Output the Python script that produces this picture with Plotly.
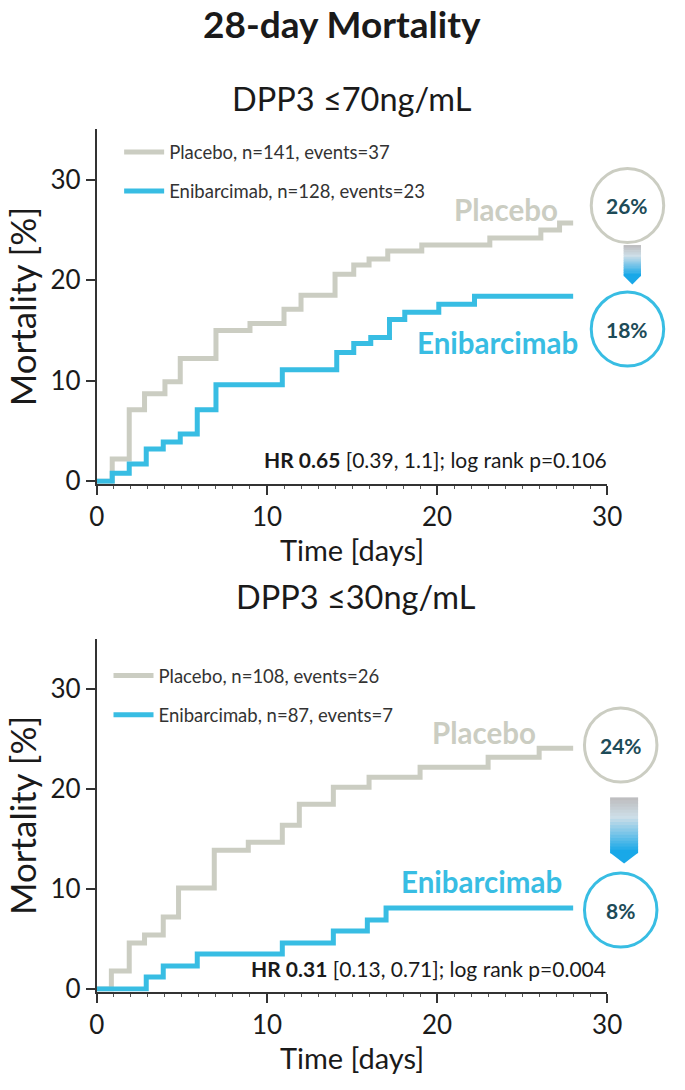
import plotly.graph_objects as go

W, H = 685, 1090

# ---------------- data ----------------
# Panel 1: DPP3 <=70 ng/mL
t1_placebo = [0, 0.9, 1.9, 2.8, 4.0, 4.9, 7.0, 9.0, 11.0, 12.0, 14.0, 15.1, 16.0, 17.1, 19.1, 23.1, 26.1, 27.2, 28.0]
m1_placebo = [0, 2.2, 7.1, 8.7, 9.9, 12.2, 15.0, 15.7, 17.1, 18.5, 20.6, 21.5, 22.1, 22.9, 23.5, 24.2, 25.0, 25.7, 25.7]
t1_enib = [0, 0.9, 1.9, 2.9, 3.9, 4.9, 5.9, 7.0, 10.9, 14.1, 15.1, 16.1, 17.2, 18.1, 20.1, 22.2, 28.0]
m1_enib = [0, 0.8, 1.7, 3.2, 3.9, 4.7, 7.1, 9.6, 11.1, 12.8, 13.7, 14.3, 16.1, 16.8, 17.6, 18.4, 18.4]

# Panel 2: DPP3 <=30 ng/mL
t2_placebo = [0, 0.85, 1.9, 2.8, 3.9, 4.8, 6.9, 8.9, 10.9, 11.9, 13.9, 16.0, 19.0, 23.0, 26.0, 28.0]
m2_placebo = [0, 1.8, 4.6, 5.4, 7.2, 10.1, 13.9, 14.7, 16.4, 18.5, 20.2, 21.2, 22.2, 23.2, 24.1, 24.1]
t2_enib = [0, 2.9, 3.9, 5.9, 10.9, 13.9, 15.9, 17.0, 28.0]
m2_enib = [0, 1.2, 2.3, 3.5, 4.6, 5.8, 6.9, 8.1, 8.1]

legend1 = ["Placebo, n=141, events=37", "Enibarcimab, n=128, events=23"]
legend2 = ["Placebo, n=108, events=26", "Enibarcimab, n=87, events=7"]
final_pct1 = ["26%", "18%"]
final_pct2 = ["24%", "8%"]
hr_text1 = "<b>HR 0.65</b> [0.39, 1.1]; log rank p=0.106"
hr_text2 = "<b>HR 0.31</b> [0.13, 0.71]; log rank p=0.004"
subtitles = ["DPP3 \u226470ng/mL", "DPP3 \u226430ng/mL"]
x_ticks = [0, 10, 20, 30]
y_ticks = [0, 10, 20, 30]

# ---------------- styles ----------------
FONT = "Lato"
GRAY = "#cbcdc2"
BLUE = "#38bde3"
DARK = "#1a1a1a"
PCT = "#1d4b58"
LW = 5


def px(x):
    return x / W


def py(y):
    return 1 - y / H


fig = go.Figure()

panels = [
    (t1_placebo, m1_placebo, t1_enib, m1_enib, legend1, "x", "y", "legend"),
    (t2_placebo, m2_placebo, t2_enib, m2_enib, legend2, "x2", "y2", "legend2"),
]
for tp, mp, te, me, leg, xa, ya, lg in panels:
    fig.add_trace(go.Scatter(x=tp, y=mp, mode="lines", line=dict(color=GRAY, width=LW, shape="hv"),
                             name=leg[0], xaxis=xa, yaxis=ya, legend=lg, legendgroup=lg + "a"))
    fig.add_trace(go.Scatter(x=te, y=me, mode="lines", line=dict(color=BLUE, width=LW, shape="hv"),
                             name=leg[1], xaxis=xa, yaxis=ya, legend=lg, legendgroup=lg + "b"))

# axes geometry (pixels)
X0, X30 = 92, 620
top_y0, top_y35 = 487, 131
bot_y0, bot_y35 = 1001, 647
YMIN = -0.25


def ydomain(y0, y35):
    per = (y0 - y35) / 35.0
    bottom = y0 - YMIN * per
    return [py(bottom), py(y35)]


xcommon = dict(range=[0, 30], tickvals=x_ticks, showline=True, linecolor="#333", linewidth=2,
               ticks="outside", ticklen=9, tickwidth=2, tickcolor="#333",
               minor=dict(ticks="outside", dtick=1, ticklen=3, tickwidth=1, tickcolor="#555"),
               showgrid=False, zeroline=False, tickfont=dict(family=FONT, size=26, color=DARK),
               title=dict(text="Time [days]", font=dict(family=FONT, size=29, color=DARK), standoff=2))
ycommon = dict(range=[YMIN, 35], tickvals=y_ticks, showline=True, linecolor="#333", linewidth=2,
               ticks="outside", ticklen=9, tickwidth=2, tickcolor="#333",
               showgrid=False, zeroline=False, tickfont=dict(family=FONT, size=26, color=DARK),
               title=dict(text="Mortality [%]", font=dict(family=FONT, size=35, color=DARK), standoff=3))

fig.update_layout(
    width=W, height=H, autosize=False,
    margin=dict(l=0, r=0, t=0, b=0),
    paper_bgcolor="white", plot_bgcolor="white",
    font=dict(family=FONT, color=DARK),
    xaxis=dict(domain=[px(X0), px(X30)], anchor="y", **xcommon),
    yaxis=dict(domain=ydomain(top_y0, top_y35), anchor="x", **ycommon),
    xaxis2=dict(domain=[px(X0), px(X30)], anchor="y2", **xcommon),
    yaxis2=dict(domain=ydomain(bot_y0, bot_y35), anchor="x2", **ycommon),
    legend=dict(x=px(115), y=py(135), xanchor="left", yanchor="top", bgcolor="rgba(0,0,0,0)",
                font=dict(family=FONT, size=18.5, color="#333"), traceorder="grouped", tracegroupgap=12,
                itemwidth=40),
    legend2=dict(x=px(104), y=py(665), xanchor="left", yanchor="top", bgcolor="rgba(0,0,0,0)",
                 font=dict(family=FONT, size=18.5, color="#333"), traceorder="grouped", tracegroupgap=12,
                 itemwidth=40),
    showlegend=True,
)

ann = []
ann.append(dict(text="<b>28-day Mortality</b>", x=px(346), y=py(24), xref="paper", yref="paper",
                showarrow=False, font=dict(family=FONT, size=37, color=DARK), xanchor="center", yanchor="middle"))
ann.append(dict(text=subtitles[0], x=px(356), y=py(100), xref="paper", yref="paper",
                showarrow=False, font=dict(family=FONT, size=32.5, color=DARK), xanchor="center", yanchor="middle"))
ann.append(dict(text=subtitles[1], x=px(360), y=py(604), xref="paper", yref="paper",
                showarrow=False, font=dict(family=FONT, size=32.5, color=DARK), xanchor="center", yanchor="middle"))

# group labels
for txt, x, y, c in [("<b>Placebo</b>", 459, 212, GRAY), ("<b>Enibarcimab</b>", 421, 347, BLUE),
                     ("<b>Placebo</b>", 437, 741, GRAY), ("<b>Enibarcimab</b>", 405, 892, BLUE)]:
    ann.append(dict(text=txt, x=px(x), y=py(y), xref="paper", yref="paper", showarrow=False,
                    font=dict(family=FONT, size=29.5, color=c), xanchor="left", yanchor="middle"))

# HR texts
ann.append(dict(text=hr_text1, x=px(622), y=py(465), xref="paper", yref="paper", showarrow=False,
                font=dict(family=FONT, size=21, color=DARK), xanchor="right", yanchor="middle"))
ann.append(dict(text=hr_text2, x=px(621), y=py(980), xref="paper", yref="paper", showarrow=False,
                font=dict(family=FONT, size=21, color=DARK), xanchor="right", yanchor="middle"))

shapes = []
circles = [(641, 208, GRAY, final_pct1[0]), (641, 333, BLUE, final_pct1[1]),
           (634, 754, GRAY, final_pct2[0]), (634, 921, BLUE, final_pct2[1])]
R = 37.5
for cx, cy, col, txt in circles:
    shapes.append(dict(type="circle", xref="paper", yref="paper",
                       x0=px(cx - R), x1=px(cx + R), y0=py(cy + R), y1=py(cy - R),
                       line=dict(color=col, width=3), fillcolor="white", layer="above"))
    ann.append(dict(text="<b>" + txt + "</b>", x=px(cx), y=py(cy), xref="paper", yref="paper",
                    showarrow=False, font=dict(family=FONT, size=21, color=PCT),
                    xanchor="center", yanchor="middle"))


def lerp(c1, c2, f):
    return "rgb(%d,%d,%d)" % tuple(round(a + (b - a) * f) for a, b in zip(c1, c2))


def gradient_arrow(xl, xr, ytop, ybody, ytip, n=18):
    g1 = (190, 190, 192)
    g2 = (205, 222, 232)
    g3 = (25, 168, 232)
    hgt = (ybody - ytop) / n
    for i in range(n):
        f = i / (n - 1)
        if f < 0.35:
            col = lerp(g1, g2, f / 0.35)
        else:
            col = lerp(g2, g3, (f - 0.35) / 0.65)
        shapes.append(dict(type="rect", xref="paper", yref="paper",
                           x0=px(xl), x1=px(xr), y0=py(ytop + (i + 1) * hgt + 0.5), y1=py(ytop + i * hgt),
                           line=dict(width=0), fillcolor=col, layer="above"))
    xm = (xl + xr) / 2
    path = "M %f %f L %f %f L %f %f Z" % (px(xl), py(ybody), px(xr), py(ybody), px(xm), py(ytip))
    shapes.append(dict(type="path", xref="paper", yref="paper", path=path,
                       line=dict(width=0), fillcolor=lerp(g2, g3, 1.0), layer="above"))


gradient_arrow(637, 655, 248, 279, 288)
gradient_arrow(623, 652, 807, 863, 874)

fig.update_layout(annotations=ann, shapes=shapes)
fig.write_html("out.html", config={"displayModeBar": False},
               post_script="document.body.style.margin='0';document.body.style.overflow='hidden';")
